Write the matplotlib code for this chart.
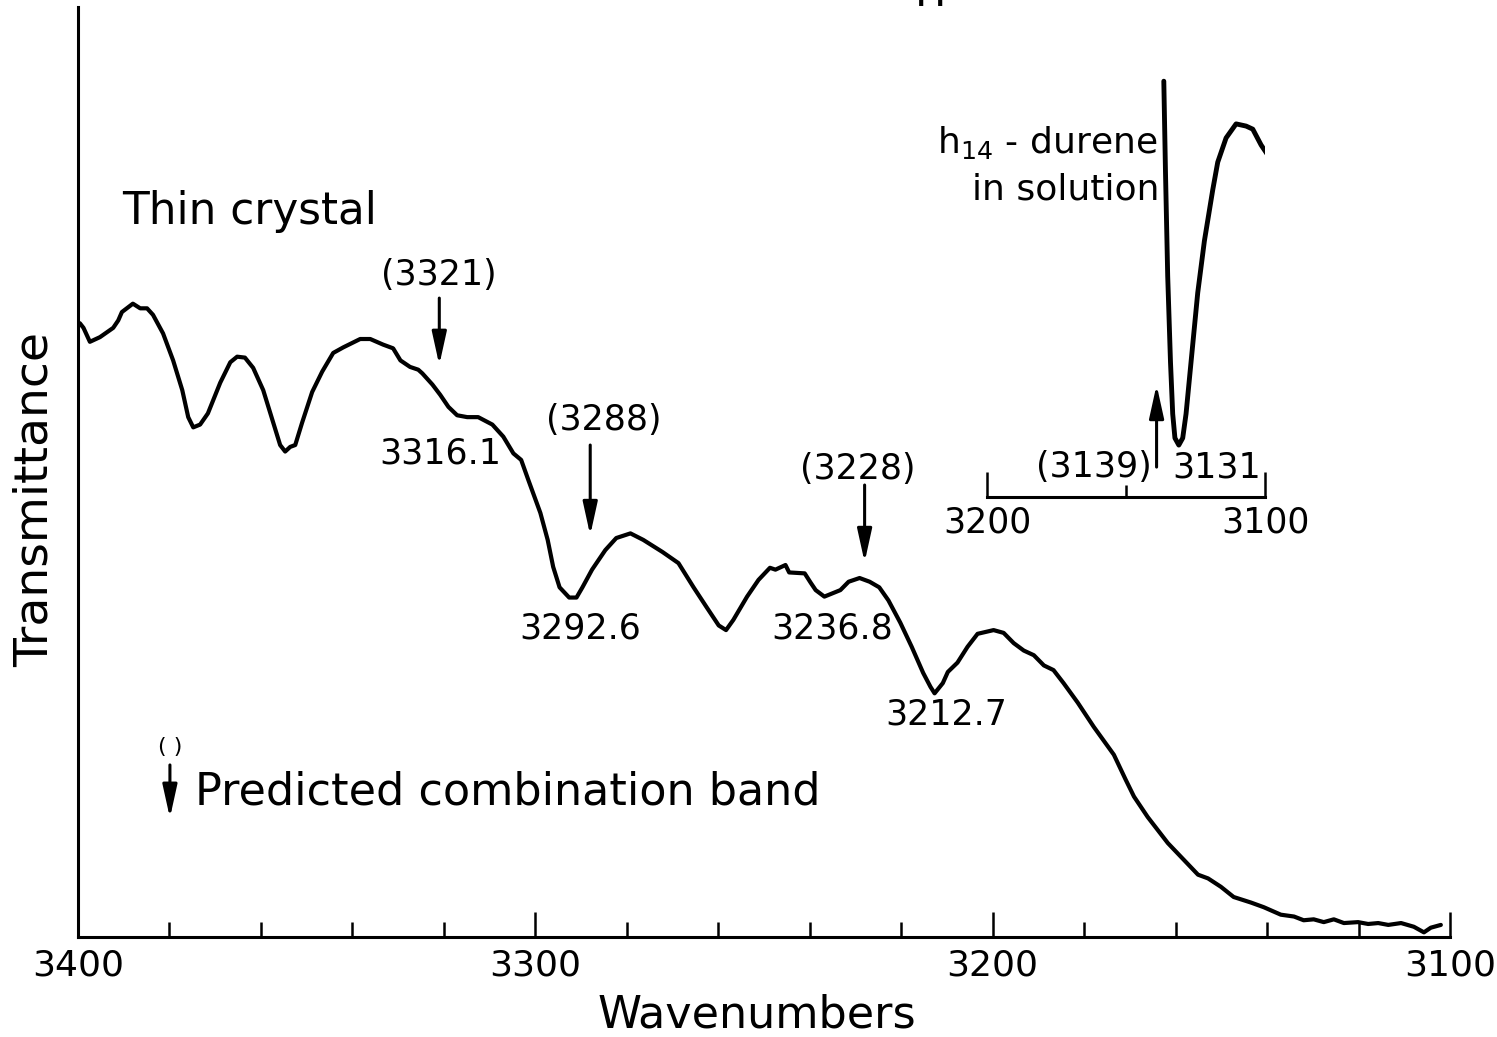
import matplotlib
matplotlib.use("Agg")
import matplotlib.pyplot as plt
from matplotlib.patches import ArrowStyle

plt.rcParams['font.family'] = ['DejaVu Sans']
plt.rcParams['mathtext.fontset'] = 'dejavusans'

# Thin crystal spectrum (wavenumber in cm-1, transmittance in arbitrary %)
wavenumber = [3399.6, 3398.8, 3397.4, 3395.2, 3392.3, 3391.2, 3390.4, 3388.0, 3386.4, 3384.9,
              3383.6, 3381.4, 3379.2, 3377.2, 3375.9, 3374.8, 3373.3, 3371.6, 3368.9, 3366.7,
              3365.2, 3363.5, 3361.7, 3359.5, 3357.5, 3355.8, 3354.7, 3353.6, 3352.5, 3351.0,
              3348.8, 3346.6, 3344.2, 3342.0, 3338.3, 3336.1, 3333.3, 3331.1, 3329.5, 3327.4,
              3325.6, 3324.7, 3322.5, 3320.8, 3319.0, 3317.1, 3314.9, 3312.5, 3309.4, 3307.0,
              3304.8, 3303.1, 3301.5, 3298.9, 3297.3, 3296.1, 3294.7, 3292.6, 3291.0, 3289.7,
              3287.6, 3284.7, 3282.3, 3279.2, 3276.4, 3272.2, 3268.7, 3265.4, 3262.6, 3259.9,
              3258.3, 3256.7, 3253.7, 3251.2, 3248.7, 3247.5, 3245.3, 3244.5, 3241.1, 3239.8,
              3238.7, 3236.8, 3233.3, 3231.5, 3229.1, 3226.9, 3224.8, 3222.8, 3220.2, 3217.7,
              3215.2, 3213.6, 3212.7, 3210.9, 3209.8, 3207.7, 3205.5, 3203.3, 3199.8, 3197.6,
              3195.4, 3193.2, 3191.0, 3188.8, 3186.7, 3184.5, 3181.4, 3177.9, 3173.5, 3170.9,
              3169.1, 3166.1, 3161.7, 3158.2, 3155.1, 3152.9, 3150.1, 3147.3, 3143.5, 3140.7,
              3137.0, 3134.1, 3132.0, 3129.8, 3127.6, 3125.4, 3123.2, 3120.1, 3117.9, 3115.7,
              3113.5, 3110.7, 3107.9, 3105.7, 3104.2, 3102.0]
transmittance = [66.0, 65.5, 64.0, 64.5, 65.5, 66.3, 67.2, 68.1, 67.6, 67.6,
                 66.9, 64.9, 62.0, 58.8, 55.9, 54.8, 55.1, 56.3, 59.6, 61.8,
                 62.4, 62.3, 61.2, 58.8, 55.6, 52.9, 52.2, 52.7, 52.9, 55.3,
                 58.6, 60.8, 62.8, 63.4, 64.3, 64.3, 63.7, 63.3, 62.0, 61.3,
                 61.0, 60.6, 59.4, 58.3, 57.0, 56.1, 55.9, 55.9, 55.1, 53.8,
                 52.0, 51.3, 49.1, 45.6, 42.7, 39.8, 37.6, 36.5, 36.5, 37.6,
                 39.5, 41.6, 42.9, 43.4, 42.7, 41.4, 40.2, 37.6, 35.5, 33.5,
                 33.0, 34.1, 36.6, 38.4, 39.7, 39.5, 40.0, 39.2, 39.1, 38.1,
                 37.3, 36.6, 37.3, 38.2, 38.6, 38.2, 37.6, 36.2, 33.8, 31.2,
                 28.4, 26.9, 26.2, 27.3, 28.5, 29.5, 31.2, 32.6, 33.0, 32.7,
                 31.6, 30.8, 30.3, 29.2, 28.7, 27.3, 25.2, 22.6, 19.6, 16.9,
                 15.1, 12.9, 10.1, 8.3, 6.7, 6.3, 5.4, 4.3, 3.7, 3.2,
                 2.4, 2.2, 1.8, 1.9, 1.6, 1.9, 1.5, 1.6, 1.4, 1.5,
                 1.3, 1.5, 1.1, 0.5, 1.0, 1.3]

# h14-durene in solution
sol_wavenumber = [3136.4, 3135.8, 3135.0, 3134.0, 3133.2, 3132.4, 3131.0, 3129.6, 3128.4, 3126.6,
                  3124.2, 3121.8, 3118.8, 3117.0, 3114.0, 3110.4, 3106.8, 3104.4, 3101.4, 3097.8]
sol_transmittance = [94.5, 73.9, 50.2, 30.7, 18.9, 13.4, 11.8, 13.4, 18.9, 30.7,
                     46.4, 58.2, 69.8, 76.1, 81.6, 84.8, 84.3, 83.6, 80.0, 76.6]

predicted = [3321, 3288, 3228]
observed = ["3316.1", "3292.6", "3236.8", "3212.7"]
sol_predicted = 3139
sol_observed = "3131"

main_ticks = [3400, 3300, 3200, 3100]
sol_ticks = [3200, 3100]

W, H = 1497, 1037
fig = plt.figure(figsize=(W / 100, H / 100), dpi=100)
ax = fig.add_axes([78 / W, (H - 937) / H, 1372 / W, 930 / H])

ax.plot(wavenumber, transmittance, color='black', lw=3.0,
        solid_capstyle='round', solid_joinstyle='round')
ax.set_xlim(3400, 3100)
ax.set_ylim(0, 100)
for s in ['top', 'right']:
    ax.spines[s].set_visible(False)
for s in ['left', 'bottom']:
    ax.spines[s].set_linewidth(2.2)
ax.set_yticks([])
ax.set_xticks(main_ticks)
ax.set_xticks([w for w in range(3380, 3100, -20) if w not in main_ticks], minor=True)
ax.tick_params(axis='x', which='major', direction='in', length=18, width=1.8,
               labelsize=26, pad=8)
ax.tick_params(axis='x', which='minor', direction='in', length=11, width=1.8)

ax.set_xlabel('Wavenumbers', fontsize=32, va='center')
ax.xaxis.set_label_coords(0.495, -0.084)
ax.set_ylabel('Transmittance', fontsize=34, va='center')
ax.yaxis.set_label_coords(-0.031, 0.47)

head = ArrowStyle('-|>', head_length=1.0, head_width=0.22)


def down_arrow(axis, x, y_tail, y_tip):
    axis.annotate('', xy=(x, y_tip), xytext=(x, y_tail),
                  arrowprops=dict(arrowstyle=head, color='black', lw=2.2,
                                  mutation_scale=20, shrinkA=0, shrinkB=0))


ax.text(3390.4, 78.0, 'Thin crystal', fontsize=31.5, ha='left', va='center')

# predicted combination bands
ax.text(3321, 71.2, '(%d)' % predicted[0], fontsize=25, ha='center', va='center')
down_arrow(ax, predicted[0], 68.7, 61.5)
ax.text(3285, 55.6, '(%d)' % predicted[1], fontsize=25, ha='center', va='center')
down_arrow(ax, predicted[1], 52.9, 43.2)
ax.text(3229.5, 50.3, '(%d)' % predicted[2], fontsize=25, ha='center', va='center')
down_arrow(ax, predicted[2], 48.6, 40.3)

# observed band positions
ax.text(3320.8, 52.0, observed[0], fontsize=25, ha='center', va='center')
ax.text(3290.2, 33.2, observed[1], fontsize=25, ha='center', va='center')
ax.text(3235.0, 33.2, observed[2], fontsize=25, ha='center', va='center')
ax.text(3210.1, 23.9, observed[3], fontsize=25, ha='center', va='center')

# key
ax.text(3379.9, 20.4, '( )', fontsize=16, ha='center', va='center')
down_arrow(ax, 3379.9, 18.5, 12.8)
ax.text(3374.4, 15.6, 'Predicted combination band', fontsize=32, ha='left', va='center')

# solution spectrum on its own scale
ia = fig.add_axes([987 / W, (H - 497) / H, 278 / W, 440 / H])
ia.set_facecolor('none')
ia.plot(sol_wavenumber, sol_transmittance, color='black', lw=3.5,
        solid_capstyle='round', solid_joinstyle='round')
ia.set_xlim(3200, 3100)
ia.set_ylim(0, 100)
for s in ['top', 'right', 'left']:
    ia.spines[s].set_visible(False)
ia.spines['bottom'].set_linewidth(2.2)
ia.set_yticks([])
ia.set_xticks(sol_ticks)
ia.set_xticks([3150], minor=True)
ia.tick_params(axis='x', which='major', direction='in', length=18, width=1.8,
               labelsize=25, pad=6)
ia.tick_params(axis='x', which='minor', direction='in', length=9, width=1.8)

ia.text(3138.8, 80.5, 'h$_{14}$ - durene', fontsize=26, ha='right', va='center')
ia.text(3137.8, 69.8, 'in solution', fontsize=26, ha='right', va='center')
ia.text(3140.6, 6.8, '(%d)' % sol_predicted, fontsize=25, ha='right', va='center')
ia.text(3133.5, 6.8, sol_observed, fontsize=25, ha='left', va='center')
ia.annotate('', xy=(sol_predicted, 25.5), xytext=(sol_predicted, 6.8),
            arrowprops=dict(arrowstyle=head, color='black', lw=2.2,
                            mutation_scale=20, shrinkA=0, shrinkB=0))

# bottom of the title line above the frame
fig.text(931 / W, 1 - 6 / H, 'H', fontsize=30, ha='center', va='baseline')

fig.savefig('out.png', dpi=100, facecolor='white')
